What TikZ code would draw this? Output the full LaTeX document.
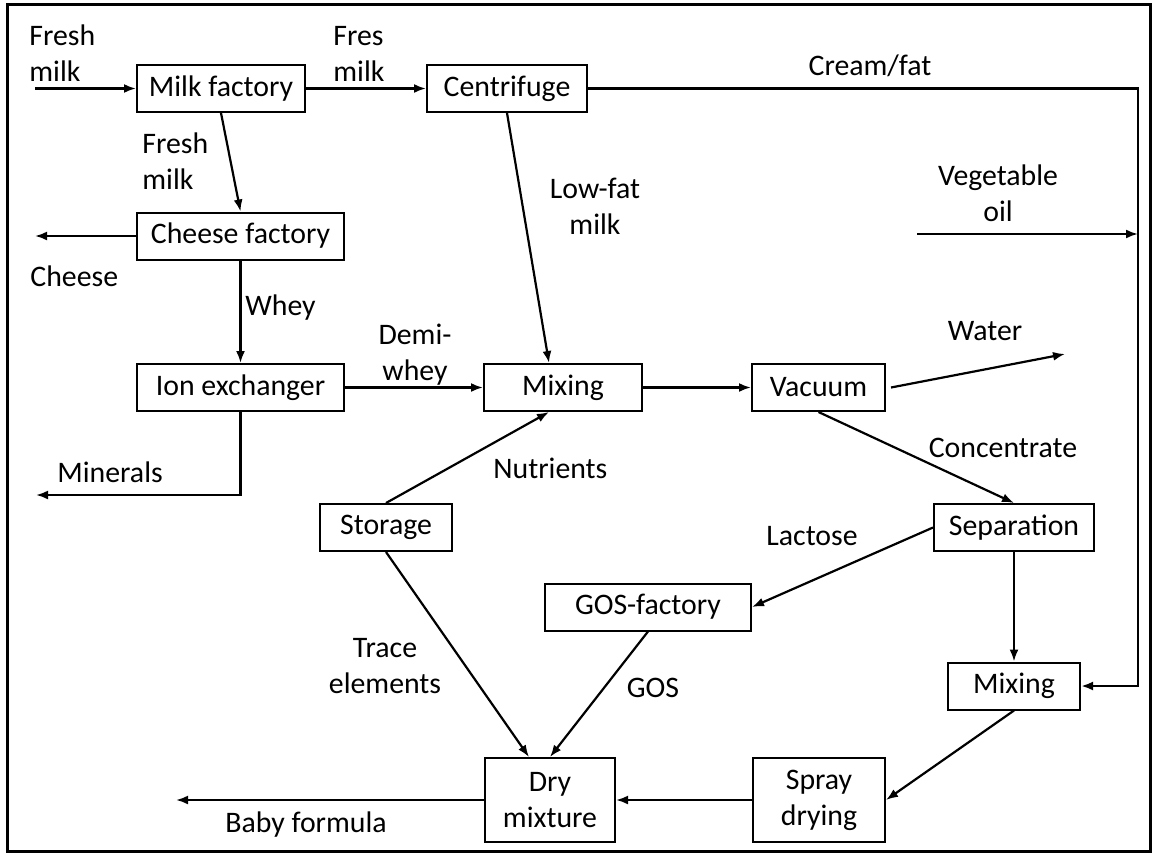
\documentclass[tikz,border=0pt]{standalone}
\usepackage{fontspec}
\setmainfont{Carlito}
\usetikzlibrary{arrows.meta}
\tikzset{
  box/.style={draw, line width=1pt, inner sep=0pt, minimum height=23.5pt, align=center},
  lbl/.style={inner sep=0pt, align=center},
  flow/.style={-{Latex[length=6pt,width=4.5pt]}, line width=1.1pt},
}
\begin{document}
\begin{tikzpicture}[x=0.5pt, y=-0.5pt, font=\fontsize{14.9}{18}\selectfont]
  \useasboundingbox (0,0) rectangle (1154,856);
  \draw[line width=1.5pt] (7,5) rectangle (1150,851);
  \draw
    (221,88.5) node[box, minimum width=84pt] (milk){Milk factory}
    (507,88.5) node[box, minimum width=80pt] (centrifuge){Centrifuge}
    (240.5,236) node[box, minimum width=103.5pt] (cheese){Cheese factory}
    (240.5,387.5) node[box, minimum width=103.5pt] (ion){Ion exchanger}
    (563,387.5) node[box, minimum width=79pt] (mix1){Mixing}
    (818.5,387.5) node[box, minimum width=66.5pt] (vacuum){Vacuum}
    (386,527.5) node[box, minimum width=66pt] (storage){Storage}
    (1014,527.5) node[box, minimum width=80pt] (sep){Separation}
    (648,607) node[box, minimum width=103pt] (gos){GOS-factory}
    (1014,686) node[box, minimum width=66pt] (mix2){Mixing}
    (550,800) node[box, minimum width=65pt, minimum height=42pt] (dry){Dry\\mixture}
    (819,800) node[box, minimum width=66pt, minimum height=42pt] (spray){Spray\\drying};
  \path
    (35,88.5) coordinate (freshin)
    (35,236) coordinate (cheeseout)
    (36,495) coordinate (mineralsout)
    (176,800) coordinate (babyout)
    (1065,354) coordinate (waterout)
    (917,234) coordinate (oilin)
    (1138,234) coordinate (oiljoin)
    (1138,88.5) coordinate (creamcorner);
  \path
    (29,53.5) node[lbl, anchor=west, align=left] (l1){Fresh\\milk}
    (333,53.5) node[lbl, anchor=west, align=left] (l2){Fres\\milk}
    (142,161.5) node[lbl, anchor=west, align=left] (l3){Fresh\\milk}
    (30,276) node[lbl, anchor=west] (l4){Cheese}
    (245,308) node[lbl, anchor=west] (l5){Whey}
    (415,355) node[lbl] (l6){Demi-\\whey}
    (57,472) node[lbl, anchor=west] (l7){Minerals}
    (493,468) node[lbl, anchor=west] (l8){Nutrients}
    (595,206) node[lbl] (l9){Low-fat\\milk}
    (870,66) node[lbl] (l10){Cream/fat}
    (998,193) node[lbl] (l11){Vegetable\\oil}
    (985,331) node[lbl] (l12){Water}
    (1003,448) node[lbl] (l13){Concentrate}
    (812,536) node[lbl] (l14){Lactose}
    (385,666.5) node[lbl] (l15){Trace\\elements}
    (653,688) node[lbl] (l16){GOS}
    (306,825) node[lbl] (l17){Baby formula};
  \begin{scope}[flow]
    \draw (freshin) to (milk.west);
    \draw (milk.east) to (centrifuge.west);
    \draw (milk.south) to (cheese.north);
    \draw (cheese.west) to (cheeseout);
    \draw (cheese.south) to (ion.north);
    \draw (ion.south) |- (mineralsout);
    \draw (ion.east) to (mix1.west);
    \draw (centrifuge.south) to ([xshift=-7pt]mix1.north);
    \draw (storage.north) to ([xshift=-7pt]mix1.south);
    \draw (mix1.east) to (vacuum.west);
    \draw ([xshift=2.5pt]vacuum.east) to (waterout);
    \draw (vacuum.south) to (sep.north);
    \draw (sep.west) to (gos.east);
    \draw (sep.south) to (mix2.north);
    \draw[line width=1.4pt] (centrifuge.east) -- (creamcorner) |- (mix2.east);
    \draw (oilin) to (oiljoin);
    \draw (storage.south) to ([xshift=-10.5pt]dry.north);
    \draw (gos.south) to (dry.north);
    \draw (mix2.south) to (spray.east);
    \draw (spray.west) to (dry.west -| dry.east);
    \draw (dry.west) to (babyout);
  \end{scope}
\end{tikzpicture}
\end{document}
